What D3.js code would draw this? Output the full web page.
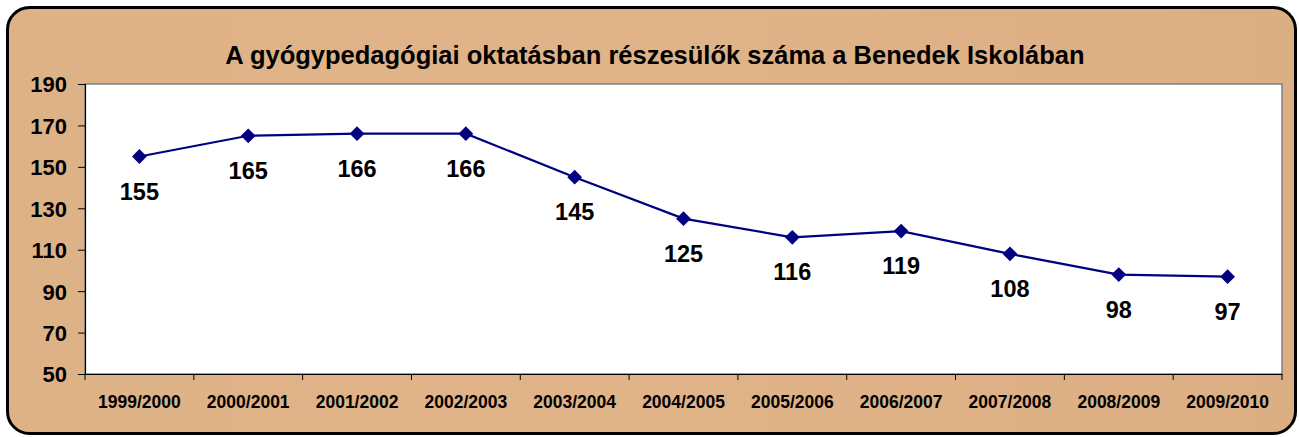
<!DOCTYPE html>
<html>
<head>
<meta charset="utf-8">
<title>Benedek Iskola</title>
<style>
    body { margin: 0; background: #ffffff; }
    text { font-family: "Liberation Sans", Arial, sans-serif; font-weight: bold; fill: #000; }
</style>
</head>
<body>
<div id="chart"></div>
<script src="https://d3js.org/d3.v7.min.js"></script>
<script>
// adatok
var categories = ["1999/2000", "2000/2001", "2001/2002", "2002/2003", "2003/2004",
    "2004/2005", "2005/2006", "2006/2007", "2007/2008", "2008/2009", "2009/2010"];
var values = [155, 165, 166, 166, 145, 125, 116, 119, 108, 98, 97];
var yTicks = [50, 70, 90, 110, 130, 150, 170, 190];
var title = "A gyógypedagógiai oktatásban részesülők száma a Benedek Iskolában";

var width = 1299, height = 437;
var plot = { left: 85, top: 84, right: 1282, bottom: 374 };

var svg = d3.select("#chart").append("svg")
    .attr("width", width)
    .attr("height", height);

// háttér színátmenet
var defs = svg.append("defs");
var grad = defs.append("linearGradient").attr("id", "bg")
    .attr("x1", "0").attr("y1", "0").attr("x2", "1").attr("y2", "0");
grad.append("stop").attr("offset", "0").attr("stop-color", "#deb287");
grad.append("stop").attr("offset", "0.5").attr("stop-color", "#e1b388");
grad.append("stop").attr("offset", "1").attr("stop-color", "#dbae83");

svg.append("rect")
    .attr("x", 7.5).attr("y", 7.5)
    .attr("width", 1288).attr("height", 426)
    .attr("rx", 22).attr("ry", 22)
    .attr("fill", "url(#bg)")
    .attr("stroke", "#000")
    .attr("stroke-width", 3);

// rajzterület
svg.append("rect")
    .attr("x", plot.left).attr("y", plot.top)
    .attr("width", plot.right - plot.left).attr("height", plot.bottom - plot.top)
    .attr("fill", "#fff")
    .attr("stroke", "#808080")
    .attr("stroke-width", 1.5);

var x = d3.scaleBand().domain(categories).range([plot.left, plot.right]);
var y = d3.scaleLinear().domain([50, 190]).range([plot.bottom, plot.top]);

// y tengely
var yAxis = svg.append("g")
    .attr("transform", "translate(" + plot.left + ",0)")
    .call(d3.axisLeft(y).tickValues(yTicks).tickSize(7).tickPadding(11));
yAxis.select(".domain").attr("stroke", "#000").attr("stroke-width", 1.2);
yAxis.selectAll(".tick line").attr("stroke", "#000");
yAxis.selectAll("text").style("font-size", "22px").attr("dy", "0.36em");

// x tengely
var xAxis = svg.append("g")
    .attr("transform", "translate(0," + plot.bottom + ")")
    .call(d3.axisBottom(x).tickSize(0).tickPadding(22));
xAxis.select(".domain").attr("stroke", "#000").attr("stroke-width", 1.2);
xAxis.selectAll("text").style("font-size", "17.5px");
// osztásjelek a sávok határán
var bounds = categories.map(function (c) { return x(c); }).concat([x(categories[categories.length - 1]) + x.bandwidth()]);
xAxis.selectAll(".bound").data(bounds).enter().append("line")
    .attr("x1", function (d) { return d; }).attr("x2", function (d) { return d; })
    .attr("y1", 0).attr("y2", 6)
    .attr("stroke", "#000");

// cím
svg.append("text")
    .attr("x", 655).attr("y", 64)
    .attr("text-anchor", "middle")
    .style("font-size", "25.5px")
    .text(title);

// vonal
var cx = function (d, i) { return x(categories[i]) + x.bandwidth() / 2; };
var line = d3.line().x(cx).y(function (d) { return y(d); });

svg.append("path")
    .datum(values)
    .attr("d", line)
    .attr("fill", "none")
    .attr("stroke", "#000080")
    .attr("stroke-width", 2.2);

svg.selectAll(".pt").data(values).enter().append("path")
    .attr("class", "pt")
    .attr("d", d3.symbol().type(d3.symbolDiamond2).size(140))
    .attr("transform", function (d, i) { return "translate(" + cx(d, i) + "," + y(d) + ")"; })
    .attr("fill", "#000080");

// értékcímkék
svg.selectAll(".lbl").data(values).enter().append("text")
    .attr("class", "lbl")
    .attr("x", cx)
    .attr("y", function (d) { return y(d) + 43; })
    .attr("text-anchor", "middle")
    .style("font-size", "23.5px")
    .text(function (d) { return d; });
</script>
</body>
</html>
